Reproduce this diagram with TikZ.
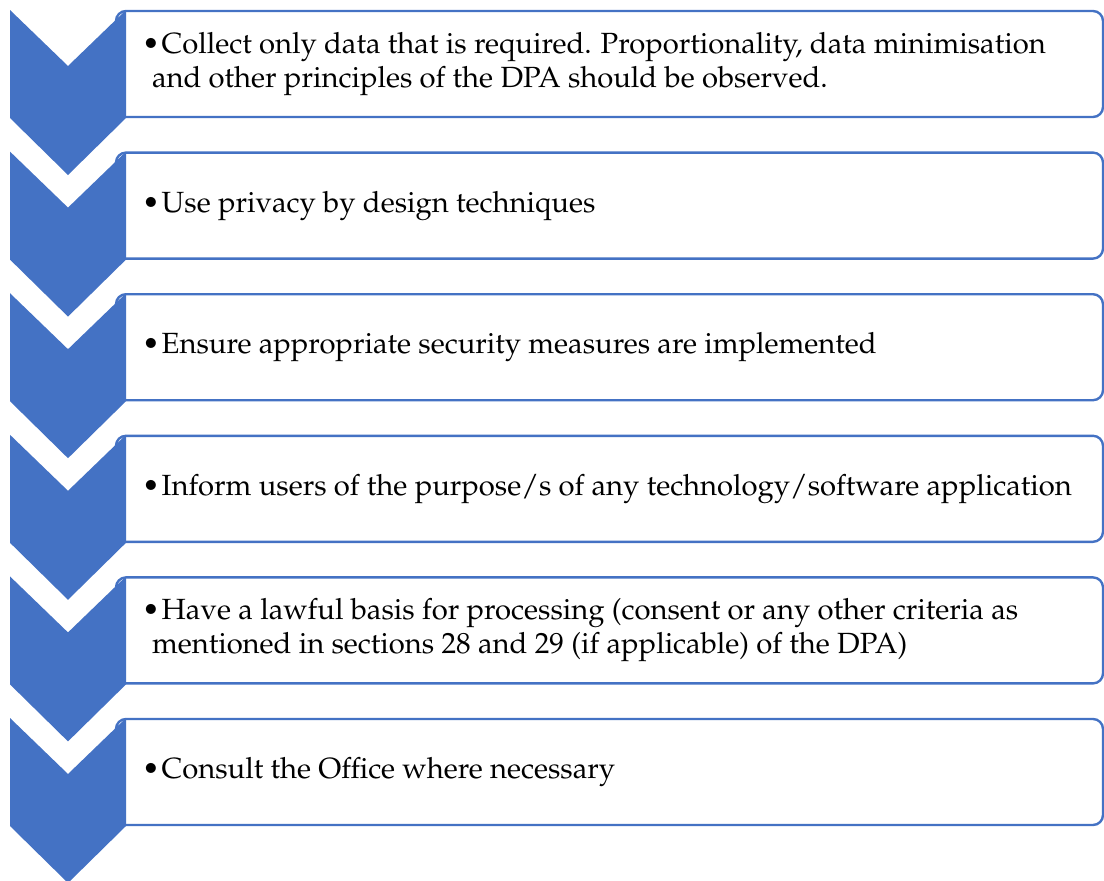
\documentclass[tikz,border=0pt]{standalone}
\usepackage[T1]{fontenc}
\usepackage{mathpazo}
\usepackage{xcolor}
\usepackage{tikz}
\usetikzlibrary{positioning}
\definecolor{stepblue}{HTML}{4472C4}
\tikzset{
	stepbox/.style={draw=stepblue, line width=2.4pt, fill=white, rounded corners=10pt, minimum width=987pt, minimum height=106pt, inner sep=0pt},
	chev/.style={fill=stepblue},
	item/.style={anchor=west, inner sep=0pt, align=left, font=\fontsize{29.2}{34}\selectfont}
}
\newcommand{\flowstep}[2]{
	\node[stepbox] (#1) at (609.5,#2+54) {};
	\fill[chev] (10,#2) -- (68,#2+56) -- (126,#2) -- (126,#2+108) -- (68,#2+165) -- (10,#2+108) -- cycle;
}
\begin{document}
\begin{tikzpicture}[x=1pt, y=-1pt]
			\useasboundingbox (0,0) rectangle (1104,881);
			
			\flowstep{step-1}{10};
			\flowstep{step-2}{151.6};
			\flowstep{step-3}{293.2};
			\flowstep{step-4}{434.8};
			\flowstep{step-5}{576.4};
			\flowstep{step-6}{718};
			
			\node[item] (text-1) at ([xshift=27pt]step-1.west) {\textbullet\hspace{2pt}Collect only data that is required. Proportionality, data minimisation\\ \hspace{10pt}and other principles of the DPA should be observed.};
			\node[item] (text-2) at ([xshift=27pt]step-2.west) {\textbullet\hspace{2pt}Use privacy by design techniques};
			\node[item] (text-3) at ([xshift=27pt]step-3.west) {\textbullet\hspace{2pt}Ensure appropriate security measures are implemented};
			\node[item] (text-4) at ([xshift=27pt]step-4.west) {\textbullet\hspace{2pt}Inform users of the purpose/s of any technology/software application};
			\node[item] (text-5) at ([xshift=27pt]step-5.west) {\textbullet\hspace{2pt}Have a lawful basis for processing (consent or any other criteria as\\ \hspace{10pt}mentioned in sections 28 and 29 (if applicable) of the DPA)};
			\node[item] (text-6) at ([xshift=27pt]step-6.west) {\textbullet\hspace{2pt}Consult the Office where necessary};
		
\end{tikzpicture}
\end{document}
